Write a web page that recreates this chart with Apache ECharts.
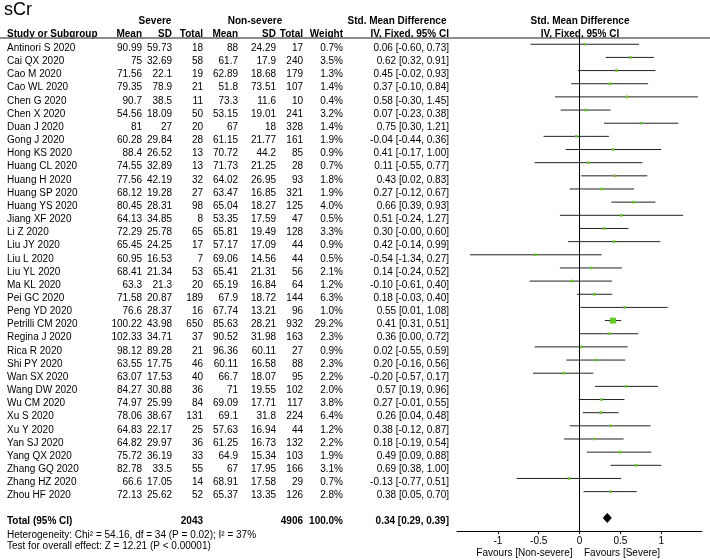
<!DOCTYPE html>
<html>
<head>
<meta charset="utf-8">
<script src="https://cdn.jsdelivr.net/npm/echarts@6/dist/echarts.min.js"></script>
<style>
html,body{margin:0;padding:0;background:#fff;}
#chart{width:710px;height:560px;}
</style>
</head>
<body>
<div id="chart"></div>
<script>
const studies = ["Antinori S 2020","Cai QX 2020","Cao M 2020","Cao WL 2020","Chen G 2020","Chen X 2020","Duan J 2020","Gong J 2020","Hong KS 2020","Huang CL 2020","Huang H 2020","Huang SP 2020","Huang YS 2020","Jiang XF 2020","Li Z 2020","Liu JY 2020","Liu L 2020","Liu YL 2020","Ma KL 2020","Pei GC 2020","Peng YD 2020","Petrilli CM 2020","Regina J 2020","Rica R 2020","Shi PY 2020","Wan SX 2020","Wang DW 2020","Wu CM 2020","Xu S 2020","Xu Y 2020","Yan SJ 2020","Yang QX 2020","Zhang GQ 2020","Zhang HZ 2020","Zhou HF 2020"];
const sevMean = [90.99,75,71.56,79.35,90.7,54.56,81,60.28,88.4,74.55,77.56,68.12,80.45,64.13,72.29,65.45,60.95,68.41,63.3,71.58,76.6,100.22,102.33,98.12,63.55,63.07,84.27,74.97,78.06,64.83,64.82,75.72,82.78,66.6,72.13];
const sevSD = [59.73,32.69,22.1,78.9,38.5,18.09,27,29.84,26.52,32.89,42.19,19.28,28.31,34.85,25.78,24.25,16.53,21.34,21.3,20.87,28.37,43.98,34.71,89.28,17.75,17.53,30.88,25.99,38.67,22.17,29.97,36.19,33.5,17.05,25.62];
const sevTotal = [18,58,19,21,11,50,20,28,13,13,32,27,98,8,65,17,7,53,20,189,16,650,37,21,46,40,36,84,131,25,36,33,55,14,52];
const nonMean = [88,61.7,62.89,51.8,73.3,53.15,67,61.15,70.72,71.73,64.02,63.47,65.04,53.35,65.81,57.17,69.06,65.41,65.19,67.9,67.74,85.63,90.52,96.36,60.11,66.7,71,69.09,69.1,57.63,61.25,64.9,67,68.91,65.37];
const nonSD = [24.29,17.9,18.68,73.51,11.6,19.01,18,21.77,44.2,21.25,26.95,16.85,18.27,17.59,19.49,17.09,14.56,21.31,16.84,18.72,13.21,28.21,31.98,60.11,16.58,18.07,19.55,17.71,31.8,16.94,16.73,15.34,17.95,17.58,13.35];
const nonTotal = [17,240,179,107,10,241,328,161,85,28,93,321,125,47,128,44,44,56,64,144,96,932,163,27,88,95,102,117,224,44,132,103,166,29,126];
const weights = [0.7,3.5,1.3,1.4,0.4,3.2,1.4,1.9,0.9,0.7,1.8,1.9,4.0,0.5,3.3,0.9,0.5,2.1,1.2,6.3,1.0,29.2,2.3,0.9,2.3,2.2,2.0,3.8,6.4,1.2,2.2,1.9,3.1,0.7,2.8];
const smd = [0.06,0.62,0.45,0.37,0.58,0.07,0.75,-0.04,0.41,0.11,0.43,0.27,0.66,0.51,0.30,0.42,-0.54,0.14,-0.10,0.18,0.55,0.41,0.36,0.02,0.20,-0.20,0.57,0.27,0.26,0.38,0.18,0.49,0.69,-0.13,0.38];
const ciLow = [-0.60,0.32,-0.02,-0.10,-0.30,-0.23,0.30,-0.44,-0.17,-0.55,0.02,-0.12,0.39,-0.24,-0.004,-0.14,-1.34,-0.24,-0.61,-0.03,0.01,0.31,0.00,-0.55,-0.16,-0.57,0.19,-0.01,0.04,-0.12,-0.19,0.09,0.38,-0.77,0.05];
const ciHigh = [0.73,0.91,0.93,0.84,1.45,0.38,1.21,0.36,1.00,0.77,0.83,0.67,0.93,1.27,0.60,0.99,0.27,0.52,0.40,0.40,1.08,0.51,0.72,0.59,0.56,0.17,0.96,0.55,0.48,0.87,0.54,0.88,1.00,0.51,0.70];
const totalSevere = 2043;
const totalNon = 4906;
const totalWeight = 100.0;
const totalSmd = 0.34, totalLow = 0.29, totalHigh = 0.39;
const xTicks = [-1, -0.5, 0, 0.5, 1];

const FONT = '"Liberation Sans", Arial, sans-serif';
const chart = echarts.init(document.getElementById('chart'), null, {renderer:'canvas'});

function txt(str, x, y, align, bold, size) {
  return {type:'text', silent:true, style:{text:str, x:x, y:y, align:align, verticalAlign:'middle',
    font:(bold?'bold ':'') + (size||10) + 'px ' + FONT, fill:'#000'}};
}
const COL = {name:7, m1:142, sd1:172, n1:203, m2:238, sd2:276, n2:303, w:343, ci:449};
const fmt2 = v => v.toFixed(2);

const rowData = studies.map((s,i)=>[0, i+1, i]);
const totalRow = 37;

const option = {
  animation:false,
  grid:{left:457, top:31.1, width:245, height:500},
  xAxis:{type:'value', min:-1.5, max:1.5, interval:0.5, position:'bottom',
    axisLine:{onZero:false, lineStyle:{color:'#000', width:1}},
    axisTick:{customValues:xTicks, length:3, lineStyle:{color:'#000'}},
    axisLabel:{customValues:xTicks, fontSize:10, fontFamily:FONT, color:'#000', margin:5,
      formatter:v=>String(v)},
    splitLine:{show:false}},
  yAxis:{type:'value', min:0, max:38, inverse:true, show:false},
  graphic:[
    txt('sCr', 4, 10, 'left', false, 18),
    txt('Severe', 155, 21, 'center', true),
    txt('Non-severe', 255, 21, 'center', true),
    txt('Std. Mean Difference', 397, 21, 'center', true),
    txt('Std. Mean Difference', 580, 21, 'center', true),
    txt('Study or Subgroup', COL.name, 34, 'left', true),
    txt('Mean', COL.m1, 34, 'right', true),
    txt('SD', COL.sd1, 34, 'right', true),
    txt('Total', COL.n1, 34, 'right', true),
    txt('Mean', COL.m2, 34, 'right', true),
    txt('SD', COL.sd2, 34, 'right', true),
    txt('Total', COL.n2, 34, 'right', true),
    txt('Weight', COL.w, 34, 'right', true),
    txt('IV, Fixed, 95% CI', COL.ci, 34, 'right', true),
    txt('IV, Fixed, 95% CI', 580, 34, 'center', true),
    {type:'line', silent:true, shape:{x1:0, y1:38, x2:710, y2:38}, style:{stroke:'#666', lineWidth:1.5}},
    txt('Heterogeneity: Chi\u00b2 = 54.16, df = 34 (P = 0.02); I\u00b2 = 37%', COL.name, 535.7, 'left', false),
    txt('Test for overall effect: Z = 12.21 (P < 0.00001)', COL.name, 546.7, 'left', false),
    txt('Favours [Non-severe]', 572.5, 553, 'right', false),
    txt('Favours [Severe]', 584, 553, 'left', false)
  ],
  series:[
    {
      type:'custom', name:'table', data:rowData, clip:false, silent:true,
      renderItem:function(params, api){
        const i = api.value(2);
        const y = api.coord([0, api.value(1)])[1] + 4;
        return {type:'group', children:[
          txt(studies[i], COL.name, y, 'left'),
          txt(String(sevMean[i]), COL.m1, y, 'right'),
          txt(String(sevSD[i]), COL.sd1, y, 'right'),
          txt(String(sevTotal[i]), COL.n1, y, 'right'),
          txt(String(nonMean[i]), COL.m2, y, 'right'),
          txt(String(nonSD[i]), COL.sd2, y, 'right'),
          txt(String(nonTotal[i]), COL.n2, y, 'right'),
          txt(weights[i].toFixed(1)+'%', COL.w, y, 'right'),
          txt(fmt2(smd[i])+' ['+fmt2(ciLow[i])+', '+fmt2(ciHigh[i])+']', COL.ci, y, 'right')
        ]};
      }
    },
    {
      type:'custom', name:'total', data:[[0,totalRow]], clip:false, silent:true,
      renderItem:function(params, api){
        const y = api.coord([0, api.value(1)])[1] + 3;
        return {type:'group', children:[
          txt('Total (95% CI)', COL.name, y, 'left', true),
          txt(String(totalSevere), COL.n1, y, 'right', true),
          txt(String(totalNon), COL.n2, y, 'right', true),
          txt(totalWeight.toFixed(1)+'%', COL.w, y, 'right', true),
          txt(fmt2(totalSmd)+' ['+fmt2(totalLow)+', '+fmt2(totalHigh)+']', COL.ci, y, 'right', true)
        ]};
      }
    },
    {
      type:'custom', name:'ci', silent:true,
      data:studies.map((s,i)=>[ciLow[i], ciHigh[i], smd[i], i+1, weights[i]]),
      renderItem:function(params, api){
        const p1 = api.coord([api.value(0), api.value(3)]);
        const p2 = api.coord([api.value(1), api.value(3)]);
        const pc = api.coord([api.value(2), api.value(3)]);
        const side = Math.max(2.6, 1.1*Math.sqrt(api.value(4)));
        return {type:'group', children:[
          {type:'line', shape:{x1:p1[0], y1:p1[1], x2:p2[0], y2:p2[1]}, style:{stroke:'#222', lineWidth:1}},
          {type:'rect', z2:5, shape:{x:pc[0]-side/2, y:pc[1]-side/2, width:side, height:side}, style:{fill:'#5ecb22'}}
        ]};
      },
      markLine:{silent:true, symbol:'none', label:{show:false},
        lineStyle:{color:'#000', width:1, type:'solid'}, data:[{xAxis:0}]}
    },
    {
      type:'custom', name:'diamond', silent:true,
      data:[[totalLow, totalHigh, totalSmd, totalRow]],
      renderItem:function(params, api){
        const r = api.value(3);
        const pl = api.coord([api.value(0), r]);
        const ph = api.coord([api.value(1), r]);
        const pc = api.coord([api.value(2), r]);
        const h = 4.6;
        return {type:'polygon', shape:{points:[[pl[0],pl[1]],[pc[0],pc[1]-h],[ph[0],ph[1]],[pc[0],pc[1]+h]]},
          style:{fill:'#000', stroke:'#000', lineWidth:0.8}};
      }
    }
  ]
};
chart.setOption(option);
</script>
</body>
</html>
